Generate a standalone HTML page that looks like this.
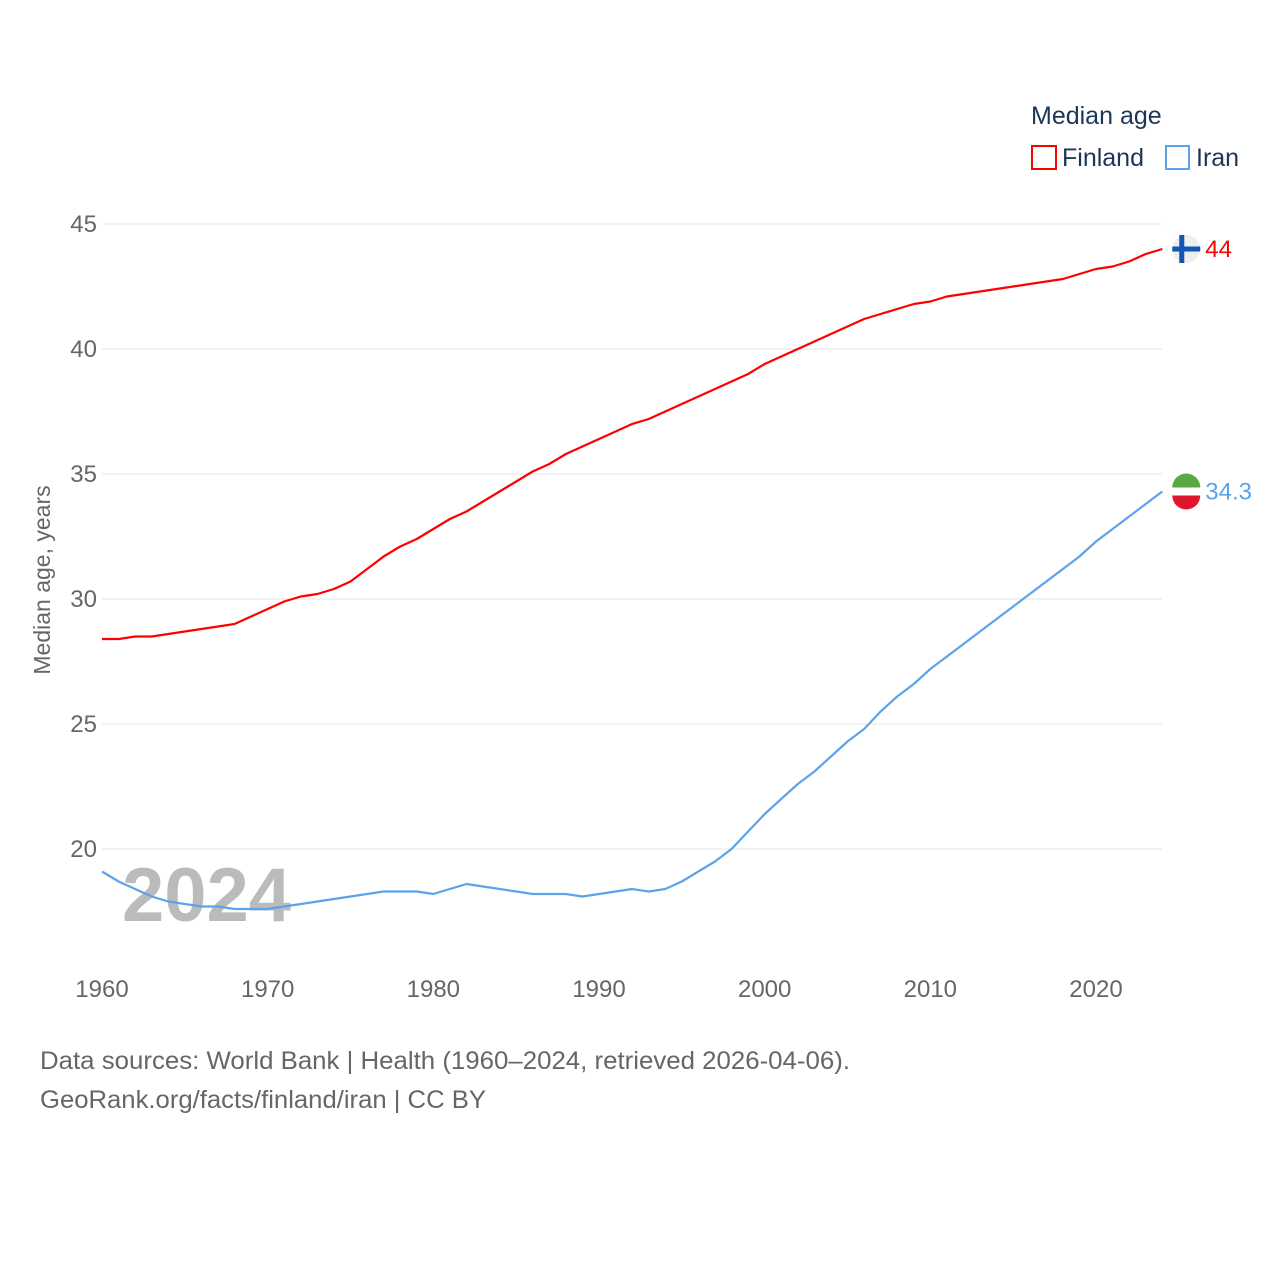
<!DOCTYPE html>
<html><head><meta charset="utf-8">
<style>
body{margin:0;background:#fff;width:1280px;height:1280px;overflow:hidden;font-family:"Liberation Sans",sans-serif;}
svg text{font-family:"Liberation Sans",sans-serif;}
</style></head>
<body>
<svg id="chart" width="1280" height="1280">
  <text x="1031" y="124" font-size="25" fill="#1d3557">Median age</text>
  <g>
    <rect x="1032" y="146" width="24" height="23" fill="none" stroke="#ff0000" stroke-width="2"/>
    <text x="1062" y="166" font-size="25" fill="#1d3557">Finland</text>
  </g>
  <g>
    <rect x="1166" y="146" width="23" height="23" fill="none" stroke="#5ba3ea" stroke-width="2"/>
    <text x="1196" y="166" font-size="25" fill="#1d3557">Iran</text>
  </g>
  <g id="grid"></g>
  <g id="xt"></g>
  <text transform="translate(50,580) rotate(-90)" text-anchor="middle" font-size="23" fill="#666">Median age, years</text>
  <text x="122" y="921" font-size="76" font-weight="bold" fill="#bbb">2024</text>
  <g id="lines"></g>
  <text x="40" y="1069" font-size="25" fill="#666" textLength="810" lengthAdjust="spacingAndGlyphs">Data sources: World Bank | Health (1960–2024, retrieved 2026-04-06).</text>
  <text x="40" y="1108" font-size="25" fill="#666" textLength="446" lengthAdjust="spacingAndGlyphs">GeoRank.org/facts/finland/iran | CC BY</text>
</svg>
<script>
const years=[];for(let y=1960;y<=2024;y++)years.push(y);
const finland=[28.4,28.4,28.5,28.5,28.6,28.7,28.8,28.9,29.0,29.3,29.6,29.9,30.1,30.2,30.4,30.7,31.2,31.7,32.1,32.4,32.8,33.2,33.5,33.9,34.3,34.7,35.1,35.4,35.8,36.1,36.4,36.7,37.0,37.2,37.5,37.8,38.1,38.4,38.7,39.0,39.4,39.7,40.0,40.3,40.6,40.9,41.2,41.4,41.6,41.8,41.9,42.1,42.2,42.3,42.4,42.5,42.6,42.7,42.8,43.0,43.2,43.3,43.5,43.8,44.0];
const iran=[19.1,18.7,18.4,18.1,17.9,17.8,17.7,17.7,17.6,17.6,17.6,17.7,17.8,17.9,18.0,18.1,18.2,18.3,18.3,18.3,18.2,18.4,18.6,18.5,18.4,18.3,18.2,18.2,18.2,18.1,18.2,18.3,18.4,18.3,18.4,18.7,19.1,19.5,20.0,20.7,21.4,22.0,22.6,23.1,23.7,24.3,24.8,25.5,26.1,26.6,27.2,27.7,28.2,28.7,29.2,29.7,30.2,30.7,31.2,31.7,32.3,32.8,33.3,33.8,34.3];
const yTicks=[20,25,30,35,40,45];
const xTicks=[1960,1970,1980,1990,2000,2010,2020];
const NS="http://www.w3.org/2000/svg";
const xs=y=>102+(y-1960)*(1096-102)/60;
const ys=v=>849-(v-20)*25;
function mk(tag,attrs,parent){const e=document.createElementNS(NS,tag);for(const k in attrs)e.setAttribute(k,attrs[k]);parent.appendChild(e);return e;}
const grid=document.getElementById('grid');
yTicks.forEach(t=>{
  const l=mk('line',{x1:102,x2:1162,y1:ys(t),y2:ys(t),stroke:'#e6e6e6','stroke-width':1},grid);
  
  
  const tx=mk('text',{x:97,y:ys(t)+8,'text-anchor':'end','font-size':24,fill:'#666'},grid);
  tx.textContent=t;
  
  
});
const xt=document.getElementById('xt');
xTicks.forEach(t=>{
  const tx=mk('text',{x:xs(t),y:997,'text-anchor':'middle','font-size':24,fill:'#666'},xt);
  tx.textContent=t;
  
  
});
const lines=document.getElementById('lines');
function series(data,color,name){
  const d=data.map((v,i)=>(i?'L':'M')+xs(years[i]).toFixed(1)+','+ys(v).toFixed(1)).join(' ');
  const p=mk('path',{d:d,fill:'none',stroke:color,'stroke-width':2.2,'stroke-linejoin':'round'},lines);
  
  
  const last=data[data.length-1], lx=xs(years[years.length-1]), ly=ys(last);
  const c=mk('circle',{cx:lx+24,cy:ly,r:14,fill:name==='finland'?'#eee':'#fff'},lines);
  
  
  if(name==='finland'){
    mk('rect',{x:lx+10,y:ly-2.5,width:28,height:5,fill:'#1255b5'},lines);
    mk('rect',{x:lx+17,y:ly-14,width:5,height:28,fill:'#1255b5'},lines);
  }else{
    mk('path',{d:`M${lx+10},${ly-4} A14,14 0 0 1 ${lx+38},${ly-4} Z`,fill:'#5aa844'},lines);
    mk('path',{d:`M${lx+10},${ly+4} A14,14 0 0 0 ${lx+38},${ly+4} Z`,fill:'#e0162b'},lines);
  }
  const t=mk('text',{x:lx+43,y:ly+8,'font-size':24,fill:color},lines);
  t.textContent=String(last);
  
  
}
series(finland,'#ff0000','finland');
series(iran,'#5ba3ea','iran');
</script>
</body></html>
